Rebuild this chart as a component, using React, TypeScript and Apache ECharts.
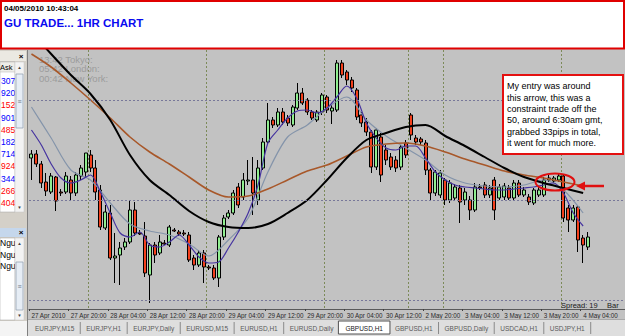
import React, { useEffect, useRef } from 'react';
import * as echarts from 'echarts';

// ---------- data ----------
const sessions = [
  { start: Date.UTC(2010, 3, 27, 12), bars: 80 },
  { start: Date.UTC(2010, 4, 2, 20), bars: 41 },
];
const months = ['Jan', 'Feb', 'Mar', 'Apr', 'May', 'Jun', 'Jul', 'Aug', 'Sep', 'Oct', 'Nov', 'Dec'];

// [open, close, low, high]
const candles: number[][] = [
  [1.5342, 1.5346, 1.5320, 1.5350], [1.5346, 1.5336, 1.5333, 1.5350], [1.5336, 1.5317, 1.5312, 1.5339],
  [1.5318, 1.5309, 1.5304, 1.5327], [1.5308, 1.5324, 1.5306, 1.5327], [1.5323, 1.5299, 1.5289, 1.5324],
  [1.5308, 1.5307, 1.5304, 1.5311], [1.5308, 1.5324, 1.5306, 1.5328], [1.5320, 1.5307, 1.5300, 1.5324],
  [1.5307, 1.5325, 1.5304, 1.5328], [1.5324, 1.5332, 1.5320, 1.5335], [1.5328, 1.5347, 1.5322, 1.5347],
  [1.5345, 1.5332, 1.5328, 1.5350], [1.5332, 1.5308, 1.5300, 1.5340], [1.5310, 1.5273, 1.5270, 1.5315],
  [1.5272, 1.5288, 1.5270, 1.5295], [1.5287, 1.5242, 1.5240, 1.5295], [1.5242, 1.5244, 1.5217, 1.5267],
  [1.5245, 1.5252, 1.5215, 1.5258], [1.5253, 1.5258, 1.5250, 1.5262], [1.5258, 1.5290, 1.5256, 1.5300],
  [1.5290, 1.5267, 1.5264, 1.5298], [1.5267, 1.5266, 1.5265, 1.5270], [1.5264, 1.5227, 1.5223, 1.5278],
  [1.5225, 1.5255, 1.5197, 1.5257], [1.5255, 1.5245, 1.5237, 1.5258], [1.5247, 1.5258, 1.5245, 1.5265],
  [1.5257, 1.5256, 1.5255, 1.5260], [1.5255, 1.5273, 1.5253, 1.5275], [1.5270, 1.5269, 1.5268, 1.5272],
  [1.5268, 1.5266, 1.5264, 1.5270], [1.5267, 1.5266, 1.5264, 1.5270], [1.5265, 1.5240, 1.5238, 1.5268],
  [1.5242, 1.5235, 1.5230, 1.5245], [1.5235, 1.5247, 1.5233, 1.5250], [1.5247, 1.5233, 1.5217, 1.5250],
  [1.5233, 1.5232, 1.5230, 1.5235], [1.5232, 1.5222, 1.5220, 1.5235], [1.5222, 1.5263, 1.5213, 1.5265],
  [1.5263, 1.5282, 1.5260, 1.5285], [1.5283, 1.5287, 1.5281, 1.5290], [1.5287, 1.5307, 1.5285, 1.5310],
  [1.5313, 1.5295, 1.5292, 1.5317], [1.5303, 1.5320, 1.5300, 1.5327], [1.5319, 1.5320, 1.5315, 1.5340],
  [1.5320, 1.5307, 1.5285, 1.5343], [1.5300, 1.5332, 1.5295, 1.5340], [1.5332, 1.5358, 1.5330, 1.5362],
  [1.5358, 1.5380, 1.5355, 1.5397], [1.5380, 1.5375, 1.5372, 1.5383], [1.5375, 1.5388, 1.5373, 1.5392],
  [1.5388, 1.5378, 1.5375, 1.5392], [1.5382, 1.5377, 1.5374, 1.5385], [1.5375, 1.5393, 1.5373, 1.5395],
  [1.5392, 1.5407, 1.5390, 1.5417], [1.5407, 1.5397, 1.5395, 1.5412], [1.5400, 1.5388, 1.5385, 1.5402],
  [1.5388, 1.5382, 1.5380, 1.5390], [1.5380, 1.5388, 1.5378, 1.5390], [1.5388, 1.5405, 1.5385, 1.5407],
  [1.5403, 1.5390, 1.5387, 1.5405], [1.5389, 1.5392, 1.5376, 1.5395], [1.5390, 1.5437, 1.5388, 1.5440],
  [1.5437, 1.5425, 1.5422, 1.5440], [1.5428, 1.5420, 1.5415, 1.5430], [1.5420, 1.5412, 1.5408, 1.5423],
  [1.5410, 1.5383, 1.5380, 1.5412], [1.5385, 1.5377, 1.5373, 1.5388], [1.5378, 1.5368, 1.5364, 1.5382],
  [1.5368, 1.5333, 1.5327, 1.5370], [1.5333, 1.5370, 1.5330, 1.5372], [1.5363, 1.5325, 1.5318, 1.5367],
  [1.5350, 1.5340, 1.5335, 1.5355], [1.5343, 1.5333, 1.5330, 1.5347], [1.5340, 1.5332, 1.5328, 1.5344],
  [1.5333, 1.5353, 1.5330, 1.5355], [1.5357, 1.5345, 1.5342, 1.5360], [1.5385, 1.5365, 1.5360, 1.5387],
  [1.5362, 1.5358, 1.5355, 1.5365], [1.5361, 1.5358, 1.5355, 1.5363], [1.5357, 1.5330, 1.5325, 1.5360],
  [1.5330, 1.5307, 1.5300, 1.5332], [1.5307, 1.5328, 1.5304, 1.5330], [1.5305, 1.5327, 1.5302, 1.5330],
  [1.5320, 1.5300, 1.5295, 1.5322], [1.5300, 1.5317, 1.5297, 1.5320], [1.5302, 1.5313, 1.5299, 1.5316],
  [1.5312, 1.5298, 1.5277, 1.5315], [1.5300, 1.5308, 1.5295, 1.5312], [1.5300, 1.5290, 1.5280, 1.5304],
  [1.5290, 1.5313, 1.5288, 1.5317], [1.5313, 1.5312, 1.5310, 1.5316], [1.5315, 1.5305, 1.5302, 1.5318],
  [1.5305, 1.5312, 1.5302, 1.5315], [1.5320, 1.5290, 1.5280, 1.5323], [1.5302, 1.5313, 1.5300, 1.5316],
  [1.5303, 1.5314, 1.5300, 1.5317], [1.5312, 1.5302, 1.5300, 1.5315], [1.5302, 1.5317, 1.5300, 1.5320],
  [1.5317, 1.5305, 1.5303, 1.5320], [1.5305, 1.5310, 1.5303, 1.5313], [1.5303, 1.5298, 1.5295, 1.5306],
  [1.5297, 1.5310, 1.5295, 1.5312], [1.5305, 1.5310, 1.5303, 1.5313], [1.5305, 1.5320, 1.5303, 1.5323],
  [1.5320, 1.5322, 1.5318, 1.5325], [1.5319, 1.5322, 1.5317, 1.5324], [1.5320, 1.5324, 1.5318, 1.5326],
  [1.5324, 1.5282, 1.5278, 1.5326], [1.5292, 1.5280, 1.5268, 1.5295], [1.5280, 1.5292, 1.5278, 1.5295],
  [1.5293, 1.5260, 1.5248, 1.5295], [1.5262, 1.5255, 1.5237, 1.5265], [1.5253, 1.5263, 1.5250, 1.5268],
];

// moving averages: [bar index, value]
const maBlack = [
  [0, 1.5468], [4, 1.5446], [8, 1.5425], [12, 1.5406], [16, 1.5380], [20, 1.5345], [24, 1.5320], [28, 1.5305],
  [32, 1.5289], [36, 1.5278], [40, 1.5273], [44, 1.5272], [48, 1.5276], [52, 1.5287], [56, 1.5300], [60, 1.5320],
  [64, 1.5342], [68, 1.5360], [72, 1.5367], [76, 1.5373], [80, 1.5375], [84, 1.5364], [88, 1.5354], [92, 1.5343],
  [96, 1.5332], [100, 1.5323], [104, 1.5317], [108, 1.5312], [112, 1.5307],
];
const maBrown = [
  [0, 1.5446], [4, 1.5433], [8, 1.5417], [12, 1.5400], [16, 1.5382], [20, 1.5363], [24, 1.5348], [28, 1.5336],
  [32, 1.5323], [36, 1.5310], [40, 1.5303], [44, 1.5304], [48, 1.5311], [52, 1.5320], [56, 1.5329], [60, 1.5335],
  [64, 1.5344], [68, 1.5353], [72, 1.5356], [76, 1.5357], [80, 1.5354], [84, 1.5348], [88, 1.5341], [92, 1.5335],
  [96, 1.5329], [100, 1.5325], [104, 1.5322], [108, 1.5318], [112, 1.5314],
];
const maGray = [
  [0, 1.5393], [4, 1.5362], [8, 1.5330], [12, 1.5320], [16, 1.5297], [20, 1.5276], [24, 1.5269], [28, 1.5265],
  [32, 1.5256], [36, 1.5244], [40, 1.5260], [44, 1.5282], [48, 1.5328], [52, 1.5363], [56, 1.5375], [60, 1.5392],
  [64, 1.5403], [68, 1.5380], [72, 1.5364], [76, 1.5352], [80, 1.5340], [84, 1.5325], [88, 1.5317], [92, 1.5314],
  [96, 1.5313], [100, 1.5315], [104, 1.5320], [108, 1.5310], [112, 1.5287],
];
const maPurple = [
  [0, 1.5370], [2, 1.5355], [4, 1.5336], [6, 1.5322], [8, 1.5317], [10, 1.5320], [12, 1.5325], [14, 1.5308],
  [16, 1.5287], [18, 1.5267], [20, 1.5263], [22, 1.5268], [24, 1.5255], [26, 1.5253], [28, 1.5258], [30, 1.5265],
  [32, 1.5255], [34, 1.5243], [36, 1.5237], [38, 1.5238], [40, 1.5252], [42, 1.5268], [44, 1.5287], [46, 1.5315],
  [48, 1.5357], [50, 1.5370], [52, 1.5382], [54, 1.5389], [56, 1.5390], [58, 1.5387], [60, 1.5392], [62, 1.5403],
  [64, 1.5414], [66, 1.5402], [68, 1.5377], [70, 1.5362], [72, 1.5352], [74, 1.5350], [76, 1.5354], [78, 1.5354],
  [80, 1.5342], [82, 1.5328], [84, 1.5320], [86, 1.5315], [88, 1.5313], [90, 1.5312], [92, 1.5311], [94, 1.5310],
  [96, 1.5310], [98, 1.5311], [100, 1.5312], [102, 1.5313], [104, 1.5315], [106, 1.5317], [108, 1.5307],
  [110, 1.5287], [112, 1.5274],
];

const priceMin = 1.5191;
const priceMax = 1.5450;
const gridPrices = [1.5404, 1.5358, 1.5312, 1.5265, 1.5219];
const dayBreaks = ['28 Apr 00:00', '29 Apr 00:00', '30 Apr 00:00', '30 Apr 17:00', '3 May 00:00', '4 May 00:00'];
const labelEvery = 8;

const headerDate = '04/05/2010 10:43:04';
const headerTitle = 'GU TRADE... 1HR CHART';
const sessionClock = ['13:42 Tokyo:', '05:42 London:', '00:42 New York:'];
const noteLines = [
  'My entry was around',
  'this arrow, this was a',
  'constraint trade off the',
  '50, around 6:30am gmt,',
  'grabbed 33pips in total,',
  'it went for much more.',
];
const spreadText = 'Spread: 19';
const barText = 'Bar';
const askDigits = ['307', '920', '152', '901', '485', '182', '714', '924', '344', '266', '404'];
const askDir = ['up', 'up', 'down', 'up', 'down', 'up', 'up', 'down', 'up', 'down', 'down'];
const navItems = ['Ngu', 'Ngu', 'Ngu'];
const tabs = ['EURJPY,M15', 'EURJPY,H1', 'EURJPY,Daily', 'EURUSD,M15', 'EURUSD,H1', 'EURUSD,Daily',
  'GBPUSD,H1', 'GBPUSD,H1', 'GBPUSD,Daily', 'USDCAD,H1', 'USDJPY,H1'];
const selectedTab = 6;

// ---------- helpers ----------
const FONT = '"Liberation Sans", Arial, Helvetica, sans-serif';

const categories: string[] = [];
sessions.forEach((s) => {
  for (let k = 0; k < s.bars; k++) {
    const d = new Date(s.start + k * 3600e3);
    categories.push(`${d.getUTCDate()} ${months[d.getUTCMonth()]} ${String(d.getUTCHours()).padStart(2, '0')}:00`);
  }
});
const firstDay = new Date(sessions[0].start);
const firstLabel = `${firstDay.getUTCDate()} ${months[firstDay.getUTCMonth()]} ${firstDay.getUTCFullYear()}`;

function txt(x: number, y: number, text: string, fontSize: number, fill: string, o: any = {}) {
  return {
    type: 'text', x, y, z: o.z ?? 100, silent: true,
    style: {
      text, fill, fontSize, fontFamily: FONT, fontWeight: o.bold ? 'bold' : 'normal',
      align: o.align ?? 'left', verticalAlign: o.va ?? 'middle', lineHeight: o.lh,
    },
  };
}
function rect(x: number, y: number, w: number, h: number, fill: string, stroke?: string, lw = 1, z = 100) {
  return { type: 'rect', z, silent: true, shape: { x, y, width: w, height: h }, style: { fill, stroke: stroke ?? 'none', lineWidth: lw } };
}
function hline(x1: number, y1: number, x2: number, y2: number, stroke: string, lw = 1, z = 100) {
  return { type: 'line', z, silent: true, shape: { x1, y1, x2, y2 }, style: { stroke, lineWidth: lw } };
}

function measure(s: string, size: number) {
  const c = document.createElement('canvas').getContext('2d');
  if (!c) return s.length * size * 0.55;
  c.font = `${size}px "Liberation Sans", Arial, sans-serif`;
  return c.measureText(s).width;
}

export default function App() {
  const ref = useRef<HTMLDivElement>(null);
  useEffect(() => {
    document.body.style.margin = '0';
    if (!ref.current) return;
    const chart = echarts.init(ref.current, null, { renderer: 'svg' });

    const els: any[] = [];
    // header
    els.push(rect(1, 1, 623, 47.5, '#ffffff', '#e00000', 2));
    els.push(txt(4, 8, headerDate, 8, '#000000', { bold: true }));
    els.push(txt(4, 23, headerTitle, 11.5, '#0a0af0', { bold: true }));

    // left panel
    els.push(rect(0, 50, 27, 286, '#d4d0c8'));
    els.push(rect(0, 51, 26, 10, '#ebe9e2'));
    els.push(txt(21, 56, '×', 8, '#000000', { bold: true, align: 'center' }));
    els.push(rect(0, 62, 15, 150, '#ffffff', '#a0a0a0', 0.5));
    els.push(rect(0, 62, 15, 10, '#eeede8', '#b4b4b4', 0.5));
    els.push(txt(0, 67.5, 'Ask', 7.5, '#000000'));
    askDigits.forEach((d, k) => {
      els.push(txt(1, 81 + k * 12.2, d, 8.5, askDir[k] === 'up' ? '#0000ff' : '#ff0000'));
    });
    els.push(rect(15, 62, 9, 150, '#f3f3f3', '#c4c4c4', 0.5));
    els.push(txt(19.5, 67, '▲', 4.5, '#404040', { align: 'center' }));
    els.push(txt(19.5, 207, '▼', 4.5, '#404040', { align: 'center' }));
    els.push(rect(16, 74, 7, 54, '#e6edf5', '#98a4b4', 0.8));
    els.push(txt(19.5, 101, '≡', 7, '#6c7888', { align: 'center' }));
    els.push(rect(0, 228, 26, 9, '#c5d7ec'));
    els.push(txt(21, 232.5, '×', 8, '#000000', { bold: true, align: 'center' }));
    els.push(rect(0, 238, 15, 82, '#ffffff', '#a0a0a0', 0.5));
    navItems.forEach((n, k) => els.push(txt(0, 243 + k * 11.6, n, 8.5, '#000000')));
    els.push(rect(15, 238, 9, 82, '#f3f3f3', '#c4c4c4', 0.5));
    els.push(txt(19.5, 243, '▲', 4.5, '#404040', { align: 'center' }));
    els.push(txt(19.5, 315, '▼', 4.5, '#404040', { align: 'center' }));
    els.push(rect(16, 262, 7, 48, '#e6edf5', '#98a4b4', 0.8));
    els.push(txt(19.5, 286, '≡', 7, '#6c7888', { align: 'center' }));
    els.push(rect(0, 321, 27, 15, '#f4f4f4'));
    els.push(hline(27.5, 50, 27.5, 336, '#808080', 1));

    // tab strip
    els.push(rect(28, 319, 597, 17, '#dedede'));
    els.push(hline(28, 319.5, 625, 319.5, '#a8a8a8', 1));
    let tx = 35;
    tabs.forEach((t, k) => {
      const w = measure(t, 6.5);
      if (k === selectedTab) els.push(rect(tx - 7, 321, w + 14, 13, '#ffffff', '#505050', 1));
      els.push(txt(tx, 328, t, 6.5, k === selectedTab ? '#202020' : '#5a5a5a'));
      if (k !== selectedTab && k + 1 !== selectedTab) els.push(hline(tx + w + 6, 322, tx + w + 6, 334, '#8a8a8a', 1));
      tx += w + 12;
    });

    // chart texts
    sessionClock.forEach((s, k) => els.push(txt(39, 59 + k * 9.6, s, 9.5, '#9c9c9c', { z: 1 })));
    els.push(txt(561, 305, spreadText, 7.5, '#1a1a1a'));
    els.push(txt(607, 305, barText, 7.5, '#1a1a1a'));

    // annotation
    els.push(rect(503, 75, 120, 79, '#ffffff', '#e41010', 2));
    els.push(txt(507, 80.5, noteLines.join('\n'), 9, '#000000', { va: 'top', lh: 11.4 }));
    els.push({
      type: 'ellipse', z: 100, silent: true, shape: { cx: 555, cy: 182, rx: 19.5, ry: 8.5 },
      style: { fill: 'none', stroke: '#e01010', lineWidth: 2 },
    });
    els.push(hline(604, 186, 582, 186, '#e01010', 2.5));
    els.push({
      type: 'polygon', z: 100, silent: true, shape: { points: [[576, 186], [585, 181.5], [585, 190.5]] },
      style: { fill: '#e01010' },
    });

    const lblInterval = (i: number) => i % labelEvery === 0 && i < candles.length;

    const option: any = {
      animation: false,
      backgroundColor: '#c2c2c2',
      textStyle: { fontFamily: FONT },
      grid: { left: 29, right: 0, top: 50, bottom: 27, show: true, backgroundColor: '#c2c2c2', borderWidth: 0 },
      xAxis: {
        type: 'category',
        data: categories,
        boundaryGap: true,
        axisLine: { show: true, lineStyle: { color: '#5a5a5a', width: 1 } },
        axisTick: { show: true, interval: lblInterval, length: 2, lineStyle: { color: '#404040' } },
        axisLabel: {
          interval: lblInterval,
          formatter: (v: string, i: number) => (i === 0 ? firstLabel : v),
          align: 'left', fontSize: 6.3, color: '#2a2a2a', margin: 3, fontFamily: FONT,
        },
        splitLine: {
          show: true,
          interval: (_i: number, v: string) => dayBreaks.includes(v),
          lineStyle: { type: [2, 2], color: '#7c8a58', width: 1 },
        },
      },
      yAxis: {
        type: 'value', min: priceMin, max: priceMax, show: false,
        splitLine: { show: false },
      },
      series: [
        {
          type: 'line', data: [], z: 1, silent: true,
          markLine: {
            silent: true, symbol: ['none', 'none'], label: { show: false },
            lineStyle: { type: [2, 2], color: '#78789a', width: 1 },
            data: gridPrices.map((v) => ({ yAxis: v })),
          },
        },
        {
          type: 'candlestick', data: candles, barWidth: 3.5, z: 2, silent: true,
          itemStyle: { color: '#90ee90', color0: '#f4401c', borderColor: '#000000', borderColor0: '#000000', borderWidth: 1 },
        },
        { type: 'line', data: maGray, showSymbol: false, symbol: 'none', smooth: 0.3, z: 3, silent: true, lineStyle: { color: '#8494aa', width: 1.2 } },
        { type: 'line', data: maBrown, showSymbol: false, symbol: 'none', smooth: 0.3, z: 3, silent: true, lineStyle: { color: '#a8582a', width: 1.6 } },
        { type: 'line', data: maPurple, showSymbol: false, symbol: 'none', smooth: 0.3, z: 3, silent: true, lineStyle: { color: '#4634a0', width: 1.2 } },
        { type: 'line', data: maBlack, showSymbol: false, symbol: 'none', smooth: 0.3, z: 4, silent: true, lineStyle: { color: '#000000', width: 2 } },
      ],
      graphic: { elements: els },
    };
    chart.setOption(option);
    return () => chart.dispose();
  }, []);
  return <div ref={ref} style={{ position: 'absolute', left: 0, top: 0, width: 625, height: 336 }} />;
}
